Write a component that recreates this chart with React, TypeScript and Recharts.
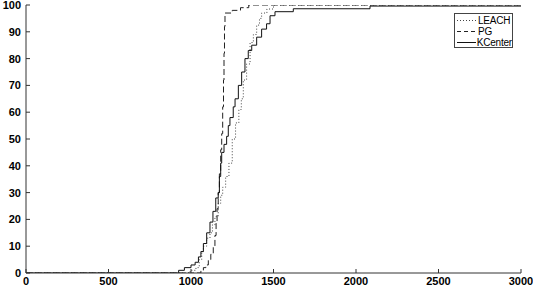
import React from 'react';
import { LineChart, Line, XAxis, YAxis, Legend } from 'recharts';

const xTicks = [0, 500, 1000, 1500, 2000, 2500, 3000];
const yTicks = [0, 10, 20, 30, 40, 50, 60, 70, 80, 90, 100];

const leachX = [0, 995, 1030, 1050, 1065, 1075, 1095, 1115, 1130, 1145, 1165, 1180, 1192, 1210, 1230, 1250, 1270, 1290, 1305, 1317, 1337, 1358, 1378, 1398, 1415, 1428, 1460, 1500, 3000];
const leachY = [0, 1, 2, 5, 8, 10, 13, 15, 18, 21, 26, 29, 32, 36, 41, 50, 56, 61, 65, 72, 78, 86, 89, 92.5, 95, 97, 98.5, 100, 100];

const pgX = [0, 1060, 1075, 1090, 1105, 1120, 1135, 1145, 1152, 1158, 1165, 1172, 1180, 1186, 1192, 1197, 1200, 1203, 1206, 1250, 1300, 1350, 3000];
const pgY = [0, 1, 2, 3, 5, 7, 10, 14, 19, 24, 30, 37, 46, 52, 62, 72, 82, 92, 97, 98, 99, 100, 100];

const kcX = [0, 925, 960, 1000, 1025, 1045, 1060, 1075, 1095, 1115, 1133, 1150, 1165, 1172, 1180, 1186, 1200, 1216, 1226, 1236, 1256, 1267, 1287, 1307, 1327, 1347, 1368, 1398, 1428, 1458, 1479, 1509, 1620, 2085, 3000];
const kcY = [0, 1, 2, 3, 4, 6, 8, 11, 15, 19, 23, 28, 30, 36, 41, 45, 48, 51, 55, 58, 62, 65, 70, 75, 80, 83, 85, 88, 91, 93, 96, 97.5, 98.6, 99.6, 99.6];

const zip = (xs: number[], ys: number[]) => xs.map((x, i) => ({ x, y: ys[i] }));

const series = [
  { name: 'LEACH', data: zip(leachX, leachY), color: '#444', dash: '1 2' },
  { name: 'PG', data: zip(pgX, pgY), color: '#222', dash: '6 3' },
  { name: 'KCenter', data: zip(kcX, kcY), color: '#111', dash: undefined as string | undefined },
];

const FONT = '"Liberation Sans", Arial, Helvetica, sans-serif';

const renderLegend = () => (
  <div
    style={{
      border: '1px solid #444',
      background: '#fff',
      width: 59,
      height: 35,
      boxSizing: 'border-box',
      padding: '1px 0 0 2px',
      fontFamily: FONT,
      fontSize: 10,
      color: '#000',
    }}
  >
    {series.map((s) => (
      <div key={s.name} style={{ display: 'flex', alignItems: 'center', height: 11 }}>
        <svg width={20} height={11} style={{ display: 'block' }}>
          <line x1={0} x2={20} y1={5.5} y2={5.5} stroke={s.color} strokeWidth={1} strokeDasharray={s.dash === '6 3' ? '4 3' : s.dash} />
        </svg>
        <span style={{ marginLeft: 1, lineHeight: '11px', whiteSpace: 'nowrap', letterSpacing: -0.2 }}>{s.name}</span>
      </div>
    ))}
  </div>
);

export default function App() {
  const tickStyle = { fill: '#000', fontSize: 11, fontFamily: FONT, fontWeight: 'bold' as const };
  return (
    <div style={{ position: 'absolute', left: 0, top: 0, background: '#fff' }}>
      <LineChart width={533} height={288} margin={{ top: 5, right: 12, bottom: 0, left: 0 }}>
        <XAxis
          xAxisId="b"
          dataKey="x"
          type="number"
          domain={[0, 3000]}
          ticks={xTicks}
          interval={0}
          allowDataOverflow
          height={15}
          tickSize={-4}
          tickMargin={8}
          stroke="#333"
          tick={tickStyle}
        />
        <XAxis
          xAxisId="t"
          orientation="top"
          type="number"
          domain={[0, 3000]}
          ticks={xTicks}
          interval={0}
          allowDataOverflow
          height={0}
          tickSize={-4}
          tick={false}
          stroke="#333"
        />
        <YAxis
          yAxisId="l"
          type="number"
          domain={[0, 100]}
          ticks={yTicks}
          interval={0}
          allowDataOverflow
          width={26}
          tickSize={-4}
          tickMargin={9}
          stroke="#333"
          tick={tickStyle}
        />
        <YAxis
          yAxisId="r"
          orientation="right"
          type="number"
          domain={[0, 100]}
          ticks={yTicks}
          interval={0}
          allowDataOverflow
          width={0}
          tickSize={-4}
          tick={false}
          stroke="#333"
        />
        {series.map((s) => (
          <Line
            key={s.name}
            xAxisId="b"
            yAxisId="l"
            data={s.data}
            dataKey="y"
            name={s.name}
            type="stepAfter"
            stroke={s.color}
            strokeWidth={1}
            strokeDasharray={s.dash}
            dot={false}
            activeDot={false}
            isAnimationActive={false}
          />
        ))}
        <Legend
          layout="vertical"
          align="center"
          verticalAlign="middle"
          content={renderLegend}
          wrapperStyle={{ top: 13, left: 454, width: 59, height: 35 }}
        />
      </LineChart>
    </div>
  );
}
